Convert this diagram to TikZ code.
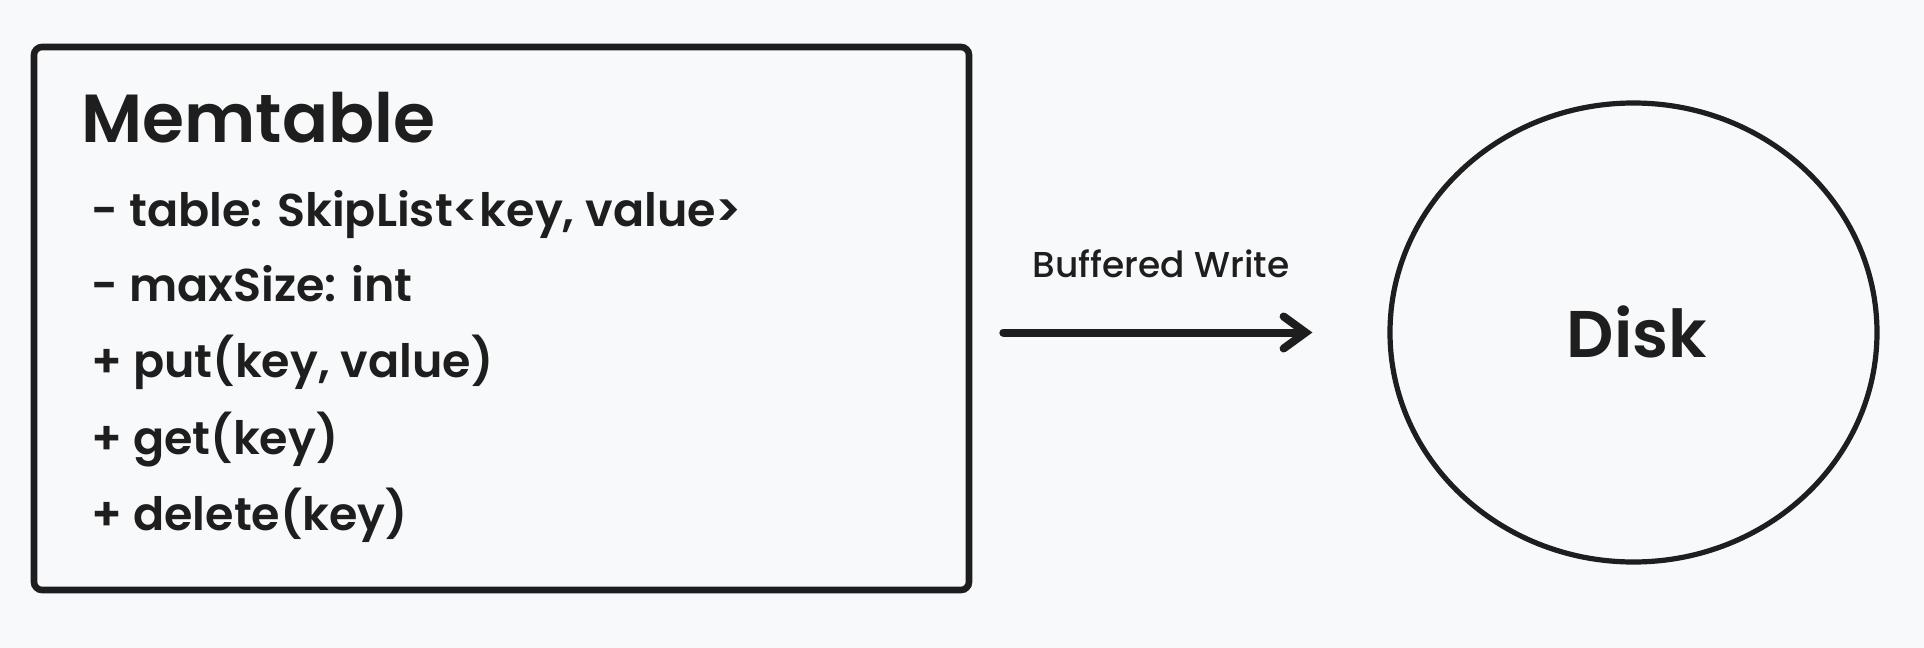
\documentclass[tikz,border=0pt]{standalone}
\usepackage{fontspec}
\setmainfont{Poppins SemiBold}
\newfontfamily\labelfont{Poppins Medium}
\usepackage{xcolor}
\usepackage{tikz}
\usetikzlibrary{arrows.meta,positioning,shapes.geometric}
\definecolor{paper}{HTML}{F8F9FA}
\definecolor{ink}{HTML}{1E1E1E}

\begin{document}
\begin{tikzpicture}[
  x=0.5pt,y=-0.5pt,
  every node/.style={text=ink,inner sep=0pt},
  classbox/.style={rectangle,rounded corners=4pt,draw=ink,line width=3.3pt,minimum width=467.5pt,minimum height=271.5pt},
  store/.style={ellipse,draw=ink,line width=2.6pt,minimum width=243.5pt,minimum height=229.5pt},
  title/.style={anchor=base west,font=\fontsize{34}{38}\selectfont},
  member/.style={anchor=base west,font=\fontsize{23}{28}\selectfont},
  flow/.style={-{Straight Barb[length=11pt,width=16pt,line cap=round]},line width=4pt,line cap=round,draw=ink}
]
\fill[paper] (0,0) rectangle (1924,648);
\useasboundingbox (0,0) rectangle (1924,648);

\node[classbox] (memtable) at (501.5,318.5) {};
\node[title] (name) at (81,142) {Memtable};
\node[member] (field1) at (91,226) {- table: SkipList<key, value>};
\node[member] (field2) at (91,301) {- maxSize: int};
\node[member] (op1) at (91,377) {+ put(key, value)};
\node[member] (op2) at (91,454) {+ get(key)};
\node[member] (op3) at (91,530) {+ delete(key)};

\node[store] (disk) at (1633.5,332.5) {};
\node[font=\fontsize{33}{36}\selectfont,anchor=base] (disklabel) at (1637,357) {Disk};

\draw[flow,shorten <=15.5pt,shorten >=37.5pt] (memtable.east |- disk.west) -- (disk.west);
\node[font=\labelfont\fontsize{18}{22}\selectfont,anchor=base] (flowlabel) at (1161,277) {Buffered Write};
\end{tikzpicture}
\end{document}
